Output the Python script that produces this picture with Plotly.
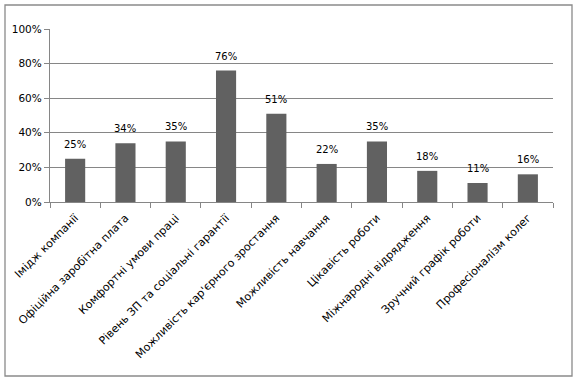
import plotly.graph_objects as go

categories = [
    "Імідж компанії",
    "Офіційна заробітна плата",
    "Комфортні умови праці",
    "Рівень ЗП та соціальні гарантії",
    "Можливість кар'єрного зростання",
    "Можливість навчання",
    "Цікавість роботи",
    "Міжнародні відрядження",
    "Зручний графік роботи",
    "Професіоналізм колег",
]
values = [0.25, 0.34, 0.35, 0.76, 0.51, 0.22, 0.35, 0.18, 0.11, 0.16]
value_labels = [f"{round(v*100)}%" for v in values]

fig = go.Figure(go.Bar(
    x=categories, y=values,
    marker=dict(color="#616161", line=dict(width=0)),
))

for c, v, t in zip(categories, values, value_labels):
    fig.add_annotation(x=c, y=v, text=t, showarrow=False, yanchor="bottom",
                       yshift=7, font=dict(family="DejaVu Sans", size=10, color="#000000"))

L, R, T, B = 50, 24, 29, 179
W, H = 577, 381
pw, ph = W - L - R, H - T - B

fig.update_layout(
    width=W, height=H,
    margin=dict(l=L, r=R, t=T, b=B, autoexpand=False),
    paper_bgcolor="white", plot_bgcolor="white",
    bargap=0.6, showlegend=False,
    font=dict(family="DejaVu Sans", size=11, color="#000000"),
    shapes=[dict(
        type="rect", xref="paper", yref="paper",
        x0=(5 - L) / pw, x1=(572 - L) / pw,
        y0=(H - B - 376) / ph, y1=(H - B - 5) / ph,
        line=dict(color="#8a8a8a", width=1.3), fillcolor="rgba(0,0,0,0)", layer="below",
    )],
)
fig.update_yaxes(
    range=[0, 1], dtick=0.2, tickformat=".0%",
    showgrid=True, gridcolor="#868686", gridwidth=1.3,
    showline=True, linecolor="#868686", linewidth=1.3,
    ticks="outside", ticklen=5, tickcolor="#868686",
    zeroline=False, tickfont=dict(size=10.5), automargin=False,
)
fig.update_xaxes(
    tickangle=-45, showline=True, linecolor="#868686", linewidth=1.3,
    ticks="outside", tickson="boundaries", ticklen=5, tickcolor="#868686",
    ticklabelstandoff=4,
    showgrid=False, tickfont=dict(size=11), automargin=False,
)
fig.write_html("out.html", config={"displayModeBar": False},
               post_script="document.body.style.margin='0px';document.body.style.overflow='hidden';")
